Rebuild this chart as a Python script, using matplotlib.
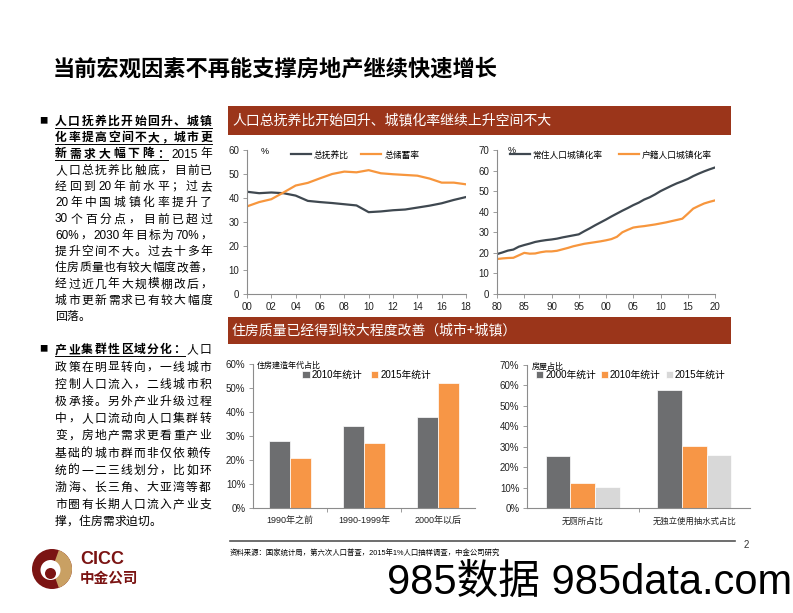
import matplotlib
matplotlib.use('Agg')
import matplotlib.pyplot as plt
from matplotlib.patches import Rectangle, Circle, Wedge
from matplotlib.lines import Line2D
from matplotlib.font_manager import FontProperties
from matplotlib.textpath import text_to_path

W, H = 793, 613
CJK = 'Noto Sans CJK SC'
LAT = 'Liberation Sans'
plt.rcParams['font.family'] = [LAT, CJK]
plt.rcParams['axes.unicode_minus'] = False

# ---- data ----
years_a = list(range(2000, 2019))
dependency = [42.6, 42.0, 42.3, 42.0, 41.0, 38.8, 38.3, 37.9, 37.4, 36.9, 34.1,
              34.4, 34.9, 35.2, 36.0, 36.8, 37.8, 39.2, 40.4]
saving = [36.5, 38.3, 39.5, 42.3, 45.2, 46.3, 48.2, 50.0, 51.0, 50.7, 51.6,
          50.3, 49.9, 49.6, 49.3, 48.1, 46.4, 46.4, 45.7]

years_b = list(range(1980, 2021))
urban_resident = [19.4, 20.2, 21.1, 21.6, 23.0, 23.8, 24.5, 25.3, 25.8, 26.2,
                  26.5, 26.9, 27.5, 28.0, 28.5, 29.0, 30.5, 31.9, 33.4, 34.8,
                  36.2, 37.7, 39.1, 40.5, 41.8, 43.2, 44.4, 45.9, 47.0, 48.4,
                  50.0, 51.3, 52.6, 53.8, 54.8, 55.9, 57.3, 58.5, 59.6, 60.6, 61.5]
urban_hukou = [17.0, 17.3, 17.5, 17.6, 18.8, 20.0, 19.6, 19.7, 20.3, 20.7,
               20.7, 21.0, 21.7, 22.4, 23.2, 23.8, 24.4, 24.8, 25.2, 25.6,
               26.1, 26.7, 27.8, 30.0, 31.2, 32.3, 32.7, 33.0, 33.4, 33.8,
               34.3, 34.8, 35.4, 36.0, 36.6, 39.0, 41.5, 42.8, 44.0, 44.8, 45.5]

age_cats = ['1990年之前', '1990-1999年', '2000年以后']
age_2010 = [27.8, 34.3, 37.9]
age_2015 = [20.8, 27.0, 52.0]

fac_cats = ['无厕所占比', '无独立使用抽水式占比']
fac_2000 = [25.5, 58.0]
fac_2010 = [12.2, 30.5]
fac_2015 = [10.3, 25.8]

title = '当前宏观因素不再能支撑房地产继续快速增长'
banner1 = '人口总抚养比开始回升、城镇化率继续上升空间不大'
banner2 = '住房质量已经得到较大程度改善（城市+城镇）'
source = '资料来源：国家统计局，第六次人口普查，2015年1%人口抽样调查，中金公司研究'

para1 = [
    [('人口抚养比开始回升、城镇', True)],
    [('化率提高空间不大，城市更', True)],
    [('新需求大幅下降：', True), ('2015年', False)],
    [('人口总抚养比触底，目前已', False)],
    [('经回到20年前水平；过去', False)],
    [('20年中国城镇化率提升了', False)],
    [('30个百分点，目前已超过', False)],
    [('60%，2030年目标为70%，', False)],
    [('提升空间不大。过去十多年', False)],
    [('住房质量也有较大幅度改善，', False)],
    [('经过近几年大规模棚改后，', False)],
    [('城市更新需求已有较大幅度', False)],
    [('回落。', False)],
]
para2 = [
    [('产业集群性区域分化：', True), ('人口', False)],
    [('政策在明显转向，一线城市', False)],
    [('控制人口流入，二线城市积', False)],
    [('极承接。另外产业升级过程', False)],
    [('中，人口流动向人口集群转', False)],
    [('变，房地产需求更看重产业', False)],
    [('基础的城市群而非仅依赖传', False)],
    [('统的一二三线划分，比如环', False)],
    [('渤海、长三角、大亚湾等都', False)],
    [('市圈有长期人口流入产业支', False)],
    [('撑，住房需求迫切。', False)],
]

RED = '#9B351A'
DARK = '#3F4850'
ORANGE = '#F7963D'
BAR_GRAY = '#6D6E70'
BAR_OR = '#F79646'
BAR_LT = '#D8D8D8'
AXC = '#8C8C8C'
LOGO_RED = '#7B1413'
LOGO_GOLD = '#C9A063'

fig = plt.figure(figsize=(W / 100, H / 100), dpi=100)


def rect(l, t, r, b):
    return [l / W, 1 - b / H, (r - l) / W, (b - t) / H]


def ptext(x, y, s, **kw):
    return fig.text(x / W, 1 - y / H, s, **kw)


def text_w(s, size, bold):
    fam = LAT if s.isascii() else CJK
    prop = FontProperties(family=fam, size=size, weight='bold' if bold else 'normal')
    w, _, _ = text_to_path.get_text_width_height_descent(s, prop, ismath=False)
    return w * 100 / 72


def para_line(y, segs, left=55, right=212, justify=True, size=8.5):
    toks = []
    for s, b in segs:
        buf = ''
        for ch in s:
            if ch.isascii():
                buf += ch
            else:
                if buf:
                    toks.append((buf, b))
                    buf = ''
                toks.append((ch, b))
        if buf:
            toks.append((buf, b))
    widths = [text_w(t, size, b) for t, b in toks]
    gap = 0
    if justify and len(toks) > 1:
        gap = (right - left - sum(widths)) / (len(toks) - 1)
    x = left
    ul = None
    for (t, b), w in zip(toks, widths):
        ptext(x, y + 4.3, t, fontsize=size, fontweight='bold' if b else 'normal',
              family=LAT if t.isascii() else CJK, va='baseline', ha='left')
        if b:
            ul = [x if ul is None else ul[0], x + w]
        x += w + gap
    if ul is not None:
        fig.add_artist(Line2D([ul[0] / W, ul[1] / W], [1 - (y + 6.8) / H] * 2,
                              transform=fig.transFigure, color='black', lw=0.7))


# ---- title ----
ptext(53, 69, title, fontsize=16, fontweight='bold', family=CJK, va='center')

# ---- left column ----
ptext(43, 121, '■', fontsize=6, family=CJK, va='center', ha='center')
for i, segs in enumerate(para1):
    para_line(120.7 + 16.25 * i, segs, justify=(i != len(para1) - 1))
ptext(43, 349, '■', fontsize=6, family=CJK, va='center', ha='center')
for i, segs in enumerate(para2):
    para_line(349 + 17.2 * i, segs, right=211, justify=(i != len(para2) - 1))

# ---- banners ----
for top, bot, txt in [(106, 135, banner1), (317, 344, banner2)]:
    fig.add_artist(Rectangle((228 / W, 1 - bot / H), (731 - 228) / W, (bot - top) / H,
                             transform=fig.transFigure, color=RED, lw=0))
    ptext(232, (top + bot) / 2, txt, fontsize=10, color='white', family=CJK,
          va='center')


def style_axes(ax):
    for s in ['top', 'right']:
        ax.spines[s].set_visible(False)
    for s in ['left', 'bottom']:
        ax.spines[s].set_color(AXC)
        ax.spines[s].set_linewidth(0.8)
    ax.tick_params(direction='out', length=3, width=0.6, color=AXC,
                   labelsize=7, labelcolor='#222222', pad=2.5)
    ax.set_facecolor('none')


leg_font = FontProperties(family=CJK, size=6.3)

# ---- chart 1 ----
ax1 = fig.add_axes(rect(247, 150, 466, 294))
style_axes(ax1)
ax1.plot(years_a, dependency, color=DARK, lw=1.6, label='总抚养比')
ax1.plot(years_a, saving, color=ORANGE, lw=1.6, label='总储蓄率')
ax1.set_xlim(2000, 2018)
ax1.set_ylim(0, 60)
ax1.set_xticks(range(2000, 2019, 2), [f'{y % 100:02d}' for y in range(2000, 2019, 2)])
ax1.set_yticks(range(0, 61, 10))
ax1.text(0.064, 0.99, '%', transform=ax1.transAxes, fontsize=6.5, va='center')
ax1.legend(loc='center left', bbox_to_anchor=(0.2, 0.965), ncol=2, frameon=False,
           prop=leg_font, handlelength=2.3, handletextpad=0.35, columnspacing=1.4,
           borderaxespad=0, borderpad=0)

# ---- chart 2 ----
ax2 = fig.add_axes(rect(497, 150, 715, 294))
style_axes(ax2)
ax2.plot(years_b, urban_resident, color=DARK, lw=1.6, label='常住人口城镇化率')
ax2.plot(years_b, urban_hukou, color=ORANGE, lw=1.6, label='户籍人口城镇化率')
ax2.set_xlim(1980, 2020)
ax2.set_ylim(0, 70)
ax2.set_xticks(range(1980, 2021, 5), [f'{y % 100:02d}' for y in range(1980, 2021, 5)])
ax2.set_yticks(range(0, 71, 10))
ax2.text(0.05, 0.995, '%', transform=ax2.transAxes, fontsize=6.5, va='center')
ax2.legend(loc='center left', bbox_to_anchor=(0.06, 0.965), ncol=2, frameon=False,
           prop=leg_font, handlelength=2.3, handletextpad=0.25, columnspacing=1.9,
           borderaxespad=0, borderpad=0)


def style_bar_axes(ax, ncat):
    style_axes(ax)
    ax.set_xlim(-0.5, ncat - 0.5)
    ax.set_xticks([i + 0.5 for i in range(ncat - 1)], minor=True)
    ax.tick_params(axis='x', which='major', length=0, pad=6, labelsize=6.5)
    ax.tick_params(axis='x', which='minor', length=3, width=0.6, color=AXC)
    for lab in ax.get_xticklabels():
        lab.set_family([LAT, CJK])


# ---- chart 3 ----
ax3 = fig.add_axes(rect(253, 364, 475, 508))
w3 = 0.285
xs = range(len(age_cats))
ax3.bar([i - w3 / 2 for i in xs], age_2010, w3, color=BAR_GRAY, edgecolor='white',
        lw=0.5, label='2010年统计')
ax3.bar([i + w3 / 2 for i in xs], age_2015, w3, color=BAR_OR, edgecolor='white',
        lw=0.5, label='2015年统计')
ax3.set_xticks(list(xs), age_cats)
style_bar_axes(ax3, len(age_cats))
ax3.set_ylim(0, 60)
ax3.set_yticks(range(0, 61, 10), [f'{v}%' for v in range(0, 61, 10)])
ax3.text(0.018, 0.99, '住房建造年代占比', transform=ax3.transAxes, fontsize=5.8,
         family=CJK, va='center')
ax3.legend(loc='center left', bbox_to_anchor=(0.222, 0.924), ncol=2, frameon=False,
           prop=FontProperties(family=[LAT, CJK], size=7), handlelength=0.75,
           handleheight=0.75, handletextpad=0.2, columnspacing=0.9,
           borderaxespad=0, borderpad=0)

# ---- chart 4 ----
ax4 = fig.add_axes(rect(527, 365, 750, 508))
w4 = 0.22
xs = range(len(fac_cats))
ax4.bar([i - w4 for i in xs], fac_2000, w4, color=BAR_GRAY, edgecolor='white',
        lw=0.5, label='2000年统计')
ax4.bar(list(xs), fac_2010, w4, color=BAR_OR, edgecolor='white', lw=0.5,
        label='2010年统计')
ax4.bar([i + w4 for i in xs], fac_2015, w4, color=BAR_LT, edgecolor='white',
        lw=0.5, label='2015年统计')
ax4.set_xticks(list(xs), fac_cats)
style_bar_axes(ax4, len(fac_cats))
for lab in ax4.get_xticklabels():
    lab.set_family(CJK)
    lab.set_fontsize(6)
ax4.set_ylim(0, 70)
ax4.set_yticks(range(0, 71, 10), [f'{v}%' for v in range(0, 71, 10)])
ax4.text(0.022, 0.99, '房屋占比', transform=ax4.transAxes, fontsize=5.8,
         family=CJK, va='center')
ax4.legend(loc='center left', bbox_to_anchor=(0.04, 0.93), ncol=3, frameon=False,
           prop=FontProperties(family=[LAT, CJK], size=7), handlelength=0.75,
           handleheight=0.75, handletextpad=0.2, columnspacing=0.5,
           borderaxespad=0, borderpad=0)

# ---- footer ----
fig.add_artist(Line2D([230 / W, 735 / W], [1 - 541 / H] * 2, transform=fig.transFigure,
                      color='#555555', lw=1.2))
ptext(746, 545, '2', fontsize=7, family=LAT, color='#333333', va='center', ha='center')
ptext(230, 553, source, fontsize=5.3, family=[LAT, CJK], va='center')

# logo
axl = fig.add_axes(rect(28, 545, 76, 593))
axl.set_xlim(28, 76)
axl.set_ylim(593, 545)
axl.axis('off')
axl.add_patch(Circle((52, 569), 20, color=LOGO_RED, lw=0))
axl.add_patch(Wedge((52, 569), 20, -70, 70, color=LOGO_GOLD, lw=0))
axl.add_patch(Circle((50.5, 570), 10, color='white', lw=0))
axl.add_patch(Circle((50.5, 573.5), 5.5, color=LOGO_RED, lw=0))
ptext(80, 559, 'CICC', fontsize=13, fontweight='bold', color=LOGO_RED, family=LAT,
      va='center')
ptext(80, 578, '中金公司', fontsize=10.5, fontweight='bold', color=LOGO_RED,
      family=CJK, va='center')

# watermark
ptext(387, 583, '985数据 985data.com', fontsize=30, family=[LAT, CJK], va='center',
      color='black')

fig.savefig('out.png', dpi=100)
